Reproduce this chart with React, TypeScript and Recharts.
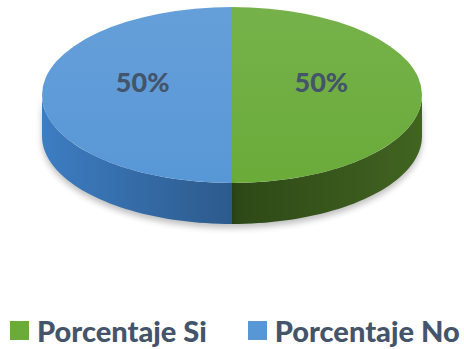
import React from "react";
import { PieChart, Pie, Cell, Legend, Sector } from "recharts";

const labels = ["Porcentaje Si", "Porcentaje No"];
const values = [50, 50];
const topColors = ["#6aab3a", "#5897d6"];
const sideLight = ["#416421", "#3d7dc2"];
const sideDark = ["#2d4816", "#2c5a8c"];

const data = labels.map((name, i) => ({ name, value: values[i] }));

const K = 0.463; // vertical squash of the disc
const DEPTH = 41;
const TEXT = "#44546a";
const FONT = "Lato, 'Open Sans', sans-serif";

const RAD = Math.PI / 180;

function frontRanges(a: number, b: number) {
  const lo = Math.min(a, b);
  const hi = Math.max(a, b);
  const out: [number, number][] = [];
  for (const [s, e] of [[-540, -360], [-180, 0], [180, 360]]) {
    const x1 = Math.max(lo, s);
    const x2 = Math.min(hi, e);
    if (x2 > x1) out.push([x1, x2]);
  }
  return out;
}

function Slice(props: any) {
  const { cx, cy, outerRadius, startAngle, endAngle, index } = props;
  const gid = `side-${index}`;
  const tid = `top-${index}`;
  const px = (t: number) => cx + outerRadius * Math.cos(t * RAD);
  const py = (t: number) => cy - outerRadius * K * Math.sin(t * RAD);
  const ranges = frontRanges(startAngle, endAngle);
  const poly = (a: number, b: number, dy: number) => {
    const pts: string[] = [];
    const n = Math.max(2, Math.ceil((b - a) / 2));
    for (let i = 0; i <= n; i++) {
      const t = a + ((b - a) * i) / n;
      pts.push(`${px(t)},${py(t)}`);
    }
    for (let i = n; i >= 0; i--) {
      const t = a + ((b - a) * i) / n;
      pts.push(`${px(t)},${py(t) + dy}`);
    }
    return pts.join(" ");
  };
  const lightLeft = index === 1;
  return (
    <g>
      <defs>
        <linearGradient id={gid} x1="0" y1="0" x2="1" y2="0">
          <stop offset="0%" stopColor={lightLeft ? sideLight[index] : sideDark[index]} />
          <stop offset="100%" stopColor={lightLeft ? sideDark[index] : sideLight[index]} />
        </linearGradient>
        <linearGradient id={tid} x1="0" y1="0" x2="0" y2="1">
          <stop offset="0%" stopColor={topColors[index]} stopOpacity={0.92} />
          <stop offset="100%" stopColor={topColors[index]} />
        </linearGradient>
        <filter id={`sh-${index}`} x="-20%" y="-50%" width="140%" height="200%">
          <feGaussianBlur stdDeviation="3" />
        </filter>
      </defs>
      {ranges.map(([a, b], j) => (
        <polygon
          key={`s${j}`}
          points={poly(a, b, DEPTH + 4)}
          fill="#000"
          opacity={0.25}
          filter={`url(#sh-${index})`}
        />
      ))}
      {ranges.map(([a, b], j) => (
        <polygon key={j} points={poly(a, b, DEPTH)} fill={`url(#${gid})`} />
      ))}
      <g transform={`translate(0 ${cy}) scale(1 ${K}) translate(0 ${-cy})`}>
        <Sector {...props} fill={`url(#${tid})`} stroke="none" />
      </g>
    </g>
  );
}

function renderLabel(props: any) {
  const { cx, cy, midAngle, outerRadius, percent } = props;
  const x = cx + outerRadius * 0.47 * Math.cos(midAngle * RAD);
  const y = cy - outerRadius * K * 0.47 * Math.sin(midAngle * RAD) - 14;
  return (
    <text
      x={x}
      y={y}
      fill={TEXT}
      textAnchor="middle"
      dominantBaseline="central"
      style={{ fontFamily: FONT, fontWeight: 900, fontSize: 27 }}
    >
      {`${(percent * 100).toFixed(0)}%`}
    </text>
  );
}

function LegendContent(props: any) {
  const payload = [...(props.payload || [])].sort(
    (a: any, b: any) => labels.indexOf(a.value) - labels.indexOf(b.value)
  );
  return (
    <div style={{ display: "flex", gap: 41, paddingLeft: 10, fontFamily: FONT }}>
      {payload.map((p: any) => {
        const i = labels.indexOf(p.value);
        return (
          <div key={p.value} style={{ display: "flex", alignItems: "center" }}>
            <span
              style={{
                display: "inline-block",
                width: 19,
                height: 19,
                background: topColors[i],
                marginRight: 8,
              }}
            />
            <span style={{ color: TEXT, fontWeight: 900, fontSize: 29 }}>{p.value}</span>
          </div>
        );
      })}
    </div>
  );
}

export default function App() {
  return (
    <div style={{ position: "absolute", left: 0, top: 0, background: "#fff" }}>
      <PieChart width={464} height={349} margin={{ top: 0, right: 0, bottom: 0, left: 0 }}>
        <Pie
          data={data}
          dataKey="value"
          nameKey="name"
          cx={232}
          cy={95}
          outerRadius={190}
          startAngle={90}
          endAngle={-270}
          stroke="none"
          shape={Slice}
          label={renderLabel}
          labelLine={false}
          isAnimationActive={false}
        >
          {data.map((d, i) => (
            <Cell key={d.name} fill={topColors[i]} />
          ))}
        </Pie>
        <Legend
          content={LegendContent}
          wrapperStyle={{ position: "absolute", left: 0, top: 313, width: 464 }}
        />
      </PieChart>
    </div>
  );
}
